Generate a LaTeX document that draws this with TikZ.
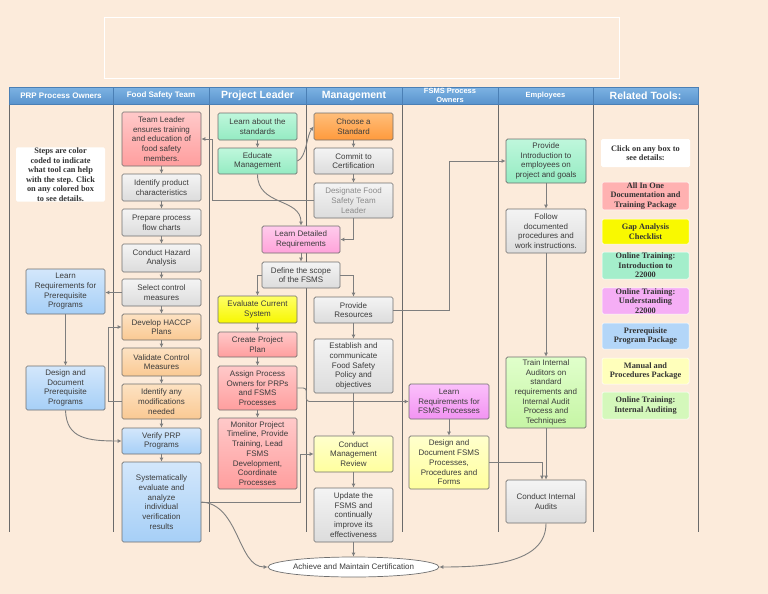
\documentclass[tikz,border=0pt]{standalone}
\usepackage{fontspec}
\setmainfont{Liberation Sans}
\newfontfamily\tipfont{Liberation Serif}
\usetikzlibrary{arrows.meta,shapes.geometric}

\definecolor{pagebg}{HTML}{FCEBDB}
\definecolor{boxline}{HTML}{6F6F6F}
\definecolor{boxtext}{HTML}{3C3C3C}
\definecolor{linkgray}{HTML}{7E7E7E}
\definecolor{laneline}{HTML}{6A6A6A}
\definecolor{headline}{HTML}{4A7FB5}
\definecolor{headtop}{HTML}{7DB3E3}
\definecolor{headbottom}{HTML}{5993CD}
\definecolor{grayA}{HTML}{F4F4F4}
\definecolor{grayB}{HTML}{DCDCDC}
\definecolor{redA}{HTML}{FFC9C9}
\definecolor{redB}{HTML}{FF9E9E}
\definecolor{orangeA}{HTML}{FDE2C2}
\definecolor{orangeB}{HTML}{FAC993}
\definecolor{deeporangeA}{HTML}{FFBE7A}
\definecolor{deeporangeB}{HTML}{FF9A3C}
\definecolor{blueA}{HTML}{D3E7FB}
\definecolor{blueB}{HTML}{A6CFF7}
\definecolor{greenA}{HTML}{BFF7DC}
\definecolor{greenB}{HTML}{94EBC2}
\definecolor{pinkA}{HTML}{FFCBEC}
\definecolor{pinkB}{HTML}{FFA3DA}
\definecolor{yellowA}{HTML}{FFFF66}
\definecolor{yellowB}{HTML}{F7F700}
\definecolor{paleyellowA}{HTML}{FFFFCC}
\definecolor{paleyellowB}{HTML}{FFFF9E}
\definecolor{violetA}{HTML}{FBC0FB}
\definecolor{violetB}{HTML}{F293F2}
\definecolor{limeA}{HTML}{E0FFCB}
\definecolor{limeB}{HTML}{C6F5A5}
\definecolor{tooltext}{HTML}{333333}
\definecolor{dimtext}{HTML}{8A8A8A}

\begin{document}
\begin{tikzpicture}[x=1pt, y=-1pt,
	every node/.style={font=\fontsize{8}{9.7}\selectfont},
	>={Latex[length=4pt,width=4pt]},
	stepbox/.style={draw=boxline, line width=0.7pt, rounded corners=1.5pt, align=center, text=boxtext, inner sep=1pt, minimum width=79pt},
	graystep/.style={stepbox, top color=grayA, bottom color=grayB},
	redstep/.style={stepbox, top color=redA, bottom color=redB},
	orangestep/.style={stepbox, top color=orangeA, bottom color=orangeB},
	deeporangestep/.style={stepbox, top color=deeporangeA, bottom color=deeporangeB},
	bluestep/.style={stepbox, top color=blueA, bottom color=blueB},
	greenstep/.style={stepbox, top color=greenA, bottom color=greenB},
	pinkstep/.style={stepbox, top color=pinkA, bottom color=pinkB},
	yellowstep/.style={stepbox, top color=yellowA, bottom color=yellowB},
	paleyellowstep/.style={stepbox, top color=paleyellowA, bottom color=paleyellowB},
	violetstep/.style={stepbox, top color=violetA, bottom color=violetB},
	limestep/.style={stepbox, top color=limeA, bottom color=limeB},
	lanehead/.style={draw=headline, line width=0.6pt, top color=headtop, bottom color=headbottom, text=white, font=\bfseries\fontsize{8}{9}\selectfont, minimum height=17pt, inner sep=0pt, align=center},
	bighead/.style={lanehead, font=\bfseries\fontsize{10.5}{12}\selectfont},
	toolbox/.style={draw=white, line width=0.5pt, rounded corners=1.5pt, align=center, text=tooltext, font=\tipfont\bfseries\fontsize{8.3}{9.6}\selectfont, minimum width=87pt, inner sep=0.5pt},
	tipnote/.style={fill=white, rounded corners=1.5pt, align=center, text=tooltext, font=\tipfont\bfseries\fontsize{8.3}{9.5}\selectfont, inner sep=0.5pt},
	laneline/.style={draw=laneline, line width=0.9pt},
	link/.style={draw=linkgray, line width=0.9pt, ->}]

	% page and frame
	\useasboundingbox (0,0) rectangle (768,594);
	\fill[pagebg] (0,0) rectangle (768,594);
	\draw[white, line width=0.6pt] (104,17) rectangle (619,78);

	% lanes
	\draw[laneline] (9,104) -- (9,532);
	\draw[laneline] (113,104) -- (113,532);
	\draw[laneline] (209,104) -- (209,532);
	\draw[laneline] (306,104) -- (306,532);
	\draw[laneline] (402,104) -- (402,532);
	\draw[laneline] (498,104) -- (498,532);
	\draw[laneline] (593,104) -- (593,532);
	\draw[laneline] (698,104) -- (698,532);

	\node[lanehead, minimum width=104pt] (hprp) at (61,95.5) {PRP Process Owners};
	\node[lanehead, minimum width=96pt] (hfst) at (161,95.5) {Food Safety Team};
	\node[bighead, minimum width=97pt] (hlead) at (257.5,95.5) {Project Leader};
	\node[bighead, minimum width=96pt] (hmgmt) at (354,95.5) {Management};
	\node[lanehead, minimum width=96pt, font=\bfseries\fontsize{7.5}{8.5}\selectfont] (hfsms) at (450,95.5) {FSMS Process\\Owners};
	\node[lanehead, minimum width=95pt, font=\bfseries\fontsize{7.5}{9}\selectfont] (hemp) at (545.5,95.5) {Employees};
	\node[bighead, minimum width=105pt] (htools) at (645.5,95.5) {Related Tools:};

	% PRP process owners
	\node[tipnote, minimum width=89pt, minimum height=53pt] (colornote) at (60.5,174.5) {Steps are color\\coded to indicate\\what tool can help\\with the step. Click\\on any colored box\\to see details.};
	\node[bluestep, minimum height=45pt] (prplearn) at (65.5,291.5) {Learn\\Requirements for\\Prerequisite\\Programs};
	\node[bluestep, minimum height=44pt] (prpdesign) at (65.5,388) {Design and\\Document\\Prerequisite\\Programs};

	% food safety team
	\node[redstep, minimum height=54pt] (lead) at (161.5,139) {Team Leader\\ensures training\\and education of\\food safety\\members.};
	\node[graystep, minimum height=27pt] (ident) at (161.5,187.5) {Identify product\\characteristics};
	\node[graystep, minimum height=27pt] (prep) at (161.5,222.5) {Prepare process\\flow charts};
	\node[graystep, minimum height=28pt] (hazard) at (161.5,258) {Conduct Hazard\\Analysis};
	\node[graystep, minimum height=27pt] (select) at (161.5,292.5) {Select control\\measures};
	\node[orangestep, minimum height=26pt] (haccp) at (161.5,327) {Develop HACCP\\Plans};
	\node[orangestep, minimum height=28pt] (validate) at (161.5,362) {Validate Control\\Measures};
	\node[orangestep, minimum height=35pt] (modif) at (161.5,401.5) {Identify any\\modifications\\needed};
	\node[bluestep, minimum height=26pt] (verify) at (161.5,441) {Verify PRP\\Programs};
	\node[bluestep, minimum height=80pt] (syseval) at (161.5,502) {Systematically\\evaluate and\\analyze\\individual\\verification\\results};

	% project leader
	\node[greenstep, minimum height=27pt] (learnstd) at (257.5,126.5) {Learn about the\\standards};
	\node[greenstep, minimum height=26pt] (educate) at (257.5,161) {Educate\\Management};
	\node[pinkstep, minimum width=78pt, minimum height=27pt] (detailed) at (301,239.5) {Learn Detailed\\Requirements};
	\node[graystep, minimum width=78pt, minimum height=26pt] (scope) at (301,275) {Define the scope\\of the FSMS};
	\node[yellowstep, minimum height=27pt] (evaluate) at (257.5,309.5) {Evaluate Current\\System};
	\node[redstep, minimum height=25pt] (plan) at (257.5,344.5) {Create Project\\Plan};
	\node[redstep, minimum height=44pt] (assign) at (257.5,388) {Assign Process\\Owners for PRPs\\and FSMS\\Processes};
	\node[redstep, minimum height=71pt] (monitor) at (257.5,453.5) {Monitor Project\\Timeline, Provide\\Training, Lead\\FSMS\\Development,\\Coordinate\\Processes};

	% management
	\node[deeporangestep, minimum height=27pt] (choose) at (353.5,126.5) {Choose a\\Standard};
	\node[graystep, minimum height=26pt] (commit) at (353.5,161) {Commit to\\Certification};
	\node[graystep, minimum height=35pt, text=dimtext] (designate) at (353.5,200.5) {Designate Food\\Safety Team\\Leader};
	\node[graystep, minimum height=26pt] (resources) at (353.5,310) {Provide\\Resources};
	\node[graystep, minimum height=54pt] (policy) at (353.5,366) {Establish and\\communicate\\Food Safety\\Policy and\\objectives};
	\node[paleyellowstep, minimum height=36pt] (review) at (353.5,454) {Conduct\\Management\\Review};
	\node[graystep, minimum height=54pt] (update) at (353.5,515) {Update the\\FSMS and\\continually\\improve its\\effectiveness};

	% FSMS process owners
	\node[violetstep, minimum width=80pt, minimum height=35pt] (fsmslearn) at (449,401.5) {Learn\\Requirements for\\FSMS Processes};
	\node[paleyellowstep, minimum width=80pt, minimum height=53pt] (fsmsdesign) at (449,462.5) {Design and\\Document FSMS\\Processes,\\Procedures and\\Forms};

	% employees
	\node[greenstep, minimum width=80pt, minimum height=44pt] (intro) at (546,161) {Provide\\Introduction to\\employees on\\project and goals};
	\node[graystep, minimum width=80pt, minimum height=44pt] (follow) at (546,231) {Follow\\documented\\procedures and\\work instructions.};
	\node[limestep, minimum width=80pt, minimum height=71pt] (train) at (546,392.5) {Train Internal\\Auditors on\\standard\\requirements and\\Internal Audit\\Process and\\Techniques};
	\node[graystep, minimum width=80pt, minimum height=43pt] (audits) at (546,501.5) {Conduct Internal\\Audits};

	\node[ellipse, draw=boxline, fill=white, line width=0.7pt, minimum width=167pt, minimum height=20pt, inner sep=0pt, text=boxtext] (achieve) at (353.5,567) {Achieve and Maintain Certification};

	% related tools
	\node[tipnote, minimum width=89pt, minimum height=28pt] (clicknote) at (645.5,153) {Click on any box to\\see details:};
	\node[toolbox, fill=redB!80!white, minimum height=26pt] (toolall) at (645.5,196) {All In One\\Documentation and\\Training Package};
	\node[toolbox, fill=yellowB!70!yellow, minimum height=25pt] (toolgap) at (645.5,231.5) {Gap Analysis\\Checklist};
	\node[toolbox, fill=greenB!85!white, minimum height=27pt] (toolintro) at (645.5,265.5) {Online Training:\\Introduction to\\22000};
	\node[toolbox, fill=violetB!75!white, minimum height=26pt] (toolunder) at (645.5,301) {Online Training:\\Understanding\\22000};
	\node[toolbox, fill=blueB!85!white, minimum height=26pt] (toolprp) at (645.5,336) {Prerequisite\\Program Package};
	\node[toolbox, fill=paleyellowB!70!white, minimum height=26pt] (toolmanual) at (645.5,371) {Manual and\\Procedures Package};
	\node[toolbox, fill=limeB!75!white, minimum height=27pt] (toolaudit) at (645.5,405.5) {Online Training:\\Internal Auditing};

	% food safety team chain
	\draw[link] (lead.south) -- (ident.north);
	\draw[link] (ident.south) -- (prep.north);
	\draw[link] (prep.south) -- (hazard.north);
	\draw[link] (hazard.south) -- (select.north);
	\draw[link] (select.south) -- (haccp.north);
	\draw[link] (haccp.south) -- (validate.north);
	\draw[link] (validate.south) -- (modif.north);
	\draw[link] (modif.south) -- (verify.north);
	\draw[link] (verify.south) -- (syseval.north);
	\draw[link] (modif.west) -- ++(-13,0) |- (haccp.west);
	\draw[link] (select.west) -- (select.west -| prplearn.east);
	\draw[link] (prplearn.south) -- (prpdesign.north);
	\draw[link] (prpdesign.south) .. controls +(1,28) and +(-35,0) .. (verify.west);

	% project leader and management
	\draw[link] (learnstd.south) -- (educate.north);
	\draw[link] (educate.east) .. controls +(9,-3) and +(-7,9) .. (choose.west);
	\draw[link] (educate.south) .. controls +(0,32) and +(0,-28) .. (detailed.north);
	\draw[link] (choose.south) -- (commit.north);
	\draw[link] (commit.south) -- (designate.north);
	\draw[link] (designate.west) -- ++(-101,0) |- (lead.east);
	\draw[link] (designate.south) |- (detailed.east);
	\draw[link] (detailed.south) -- (scope.north);
	\draw[link] (scope.west) -| (evaluate.north);
	\draw[link] (scope.east) -| (resources.north);
	\draw[link] (evaluate.south) -- (plan.north);
	\draw[link] (plan.south) -- (assign.north);
	\draw[link] (assign.south) -- (monitor.north);
	\draw[link] (resources.south) -- (policy.north);
	\draw[link] (policy.south) -- (review.north);
	\draw[link] (review.south) -- (update.north);
	\draw[link] (update.south) -- (achieve.north);
	\draw[link] (resources.east) -- ++(56,0) |- (intro.west);
	\draw[link, rounded corners=3pt] (assign.east) -- ++(9,0) |- (fsmslearn.west);
	\draw[link] (syseval.east) -- ++(99,0) |- (review.west);
	\draw[link] (syseval.east) .. controls +(38,2) and +(-30,0) .. (achieve.west);

	% process owners and employees
	\draw[link] (fsmslearn.south) -- (fsmsdesign.north);
	\draw[link] (fsmsdesign.east) -| ([xshift=-4pt]audits.north);
	\draw[link] (intro.south) -- (follow.north);
	\draw[link] (follow.south) -- (train.north);
	\draw[link] (train.south) -- (audits.north);
	\draw[link] (audits.south) .. controls +(0,38) and +(55,0) .. (achieve.east);
\end{tikzpicture}
\end{document}
